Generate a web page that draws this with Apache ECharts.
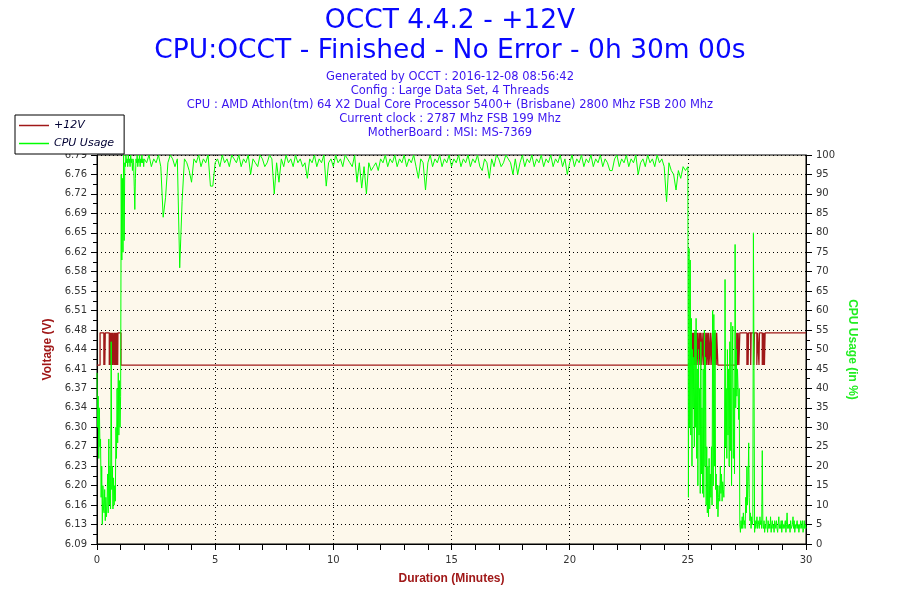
<!DOCTYPE html>
<html><head><meta charset="utf-8">
<script src="https://cdn.jsdelivr.net/npm/echarts@6/dist/echarts.min.js"></script>
<style>html,body{margin:0;padding:0;background:#fff}#c{width:900px;height:600px}</style>
</head><body><div id="c"></div>
<script>
const titleLines = ['OCCT 4.4.2 - +12V', 'CPU:OCCT - Finished - No Error - 0h 30m 00s'];
const infoLines = [
  'Generated by OCCT : 2016-12-08 08:56:42',
  'Config : Large Data Set, 4 Threads',
  'CPU : AMD Athlon(tm) 64 X2 Dual Core Processor 5400+ (Brisbane) 2800 Mhz FSB 200 Mhz',
  'Current clock : 2787 Mhz FSB 199 Mhz',
  'MotherBoard : MSI: MS-7369'
];
const seriesNames = ['+12V', 'CPU Usage'];
const voltTickLabels = ['6.09','6.13','6.16','6.20','6.23','6.27','6.30','6.34','6.37','6.41','6.44','6.48','6.51','6.55','6.58','6.62','6.65','6.69','6.72','6.76','6.79'];
const xTickLabels = ['0','5','10','15','20','25','30'];

// +12V reading: step changes (time in minutes, value in V)
const voltTimes = [0,0.13,0.29,0.31,0.33,0.35,0.52,0.53,0.545,0.555,0.57,0.58,0.61,0.62,0.65,0.66,0.71,0.72,0.76,0.77,0.79,0.80,0.83,0.84,0.875,0.885,1.015,
  25.14,25.17,25.18,25.21,25.22,25.24,25.25,25.29,25.30,25.33,25.35,25.38,25.40,25.45,25.47,25.52,25.53,25.58,25.60,25.66,25.67,25.74,25.76,25.80,25.82,25.87,25.88,25.94,25.96,26.02,26.04,26.08,26.10,26.14,26.15,26.20,26.22,26.27,
  27.07,27.10,27.13,27.16,27.20,27.50,27.53,27.55,27.57,27.66,27.68,27.79,27.82,27.92,27.95,28.01,28.03,28.15,28.17,28.19,28.22,28.24,28.27,30];
const voltValues = [6.412,6.470,6.412,6.470,6.412,6.470,6.412,6.470,6.412,6.470,6.412,6.470,6.412,6.470,6.412,6.470,6.412,6.470,6.412,6.470,6.412,6.470,6.412,6.470,6.412,6.470,6.412,
  6.470,6.412,6.470,6.412,6.470,6.412,6.470,6.412,6.470,6.412,6.470,6.412,6.470,6.412,6.470,6.412,6.470,6.412,6.470,6.412,6.470,6.412,6.470,6.412,6.470,6.412,6.470,6.412,6.470,6.412,6.470,6.412,6.470,6.412,6.470,6.412,6.470,6.412,
  6.470,6.412,6.470,6.412,6.470,6.412,6.470,6.412,6.470,6.412,6.470,6.412,6.470,6.412,6.470,6.412,6.470,6.412,6.470,6.412,6.470,6.412,6.470,6.470];

// CPU usage (%), segment A: from 0 min, every 0.025 min
const cpuA = [44,30,38,22,35,25, 27,12,20,5,15,9, 8,14,6,12,7,10, 18,8,27,10,20,9,
  52,14,20,9,17,10,15,11, 30,22,40,26,44,28,42,30,38, 95,73,94,75,100,78,98,97,100,98,
  99,97,100,98,99,97,100,98,99,96,99,98,92,86,94,99,98,100,97,99,98,100,97,99,98,100,98,99,97];
// segment B: from 2 min, every 0.1 min
const cpuB = [
  99,98,100,97,99,98,100,97,84,89,
  98,100,99,97,99,71,88,99,98,96,
  93,99,98,100,97,99,98,100,92,92,
  98,99,97,100,98,99,97,100,99,98,
  100,97,99,98,100,95,99,98,97,100,
  99,97,98,100,99,90,98,93,99,97,
  100,98,99,97,100,98,99,97,98,94,
  99,98,100,97,99,98,100,92,98,99,
  97,100,98,99,97,100,99,98,97,100,
  93,98,91.5,97,90,98,96,97,98,96,
  99,98,100,97,99,98,100,97,99,98,
  100,97,99,98,100,97,94,99,98,91,
  98,100,97,99,98,100,97,99,98,100,
  97,99,98,100,97,99,98,100,97,99,
  98,100,97,96,99,98,94,99,97,100,
  99,97,98,100,99,98,95,99,95,98,
  100,97,99,98,100,97,99,98,100,97,
  99,98,100,97,99,98,100,97,99,95,
  98,100,97,99,98,100,97,99,98,100,
  97,99,98,100,97,99,98,96,96,99,
  100,97,99,98,100,97,99,98,100,95,
  98,99,97,100,98,99,97,100,98,99,
  97,88,98,96,95,91,96,94,97,96];
// segment C: from 25 min, every 0.025 min
const cpuC = [
  97,12,76,30, 73,28,58,20, 50,35,48,25, 55,30,58,22, 45,15,50,28,
  40,13,52,18, 35,13,45,12, 55,20,48,10, 25,8,20,7, 22,9,18,12,
  25,10,60,15, 59,20,55,14, 18,9,15,7, 12,15,11,20, 13,18,11,16,
  14,12,20,68, 25,40,22,50, 28,45,20,52, 24,57,15,45, 56,22,40,18,
  77,35,50,38, 45,40,32,40, 5,3,6,4, 7,4,8,5, 6,4,12,8,
  20,10,16,26, 12,6,8,4, 7,5,6,80, 45,3,6,4, 5,7,4,6,
  5,4,7,5, 6,4,24,5, 4,6,3,5, 4,7,5,3, 6,4,5,4,
  7,3,5,6, 4,5,3,6, 5,4,6,4, 3,5,7,4, 5,4,6,3,
  6,4,5,4, 4,6,3,5, 8,4,5,4, 5,3,6,4, 4,5,7,4,
  6,3,5,4, 4,6,4,5, 3,5,4,6, 5,4,6,3, 4,6,4,5,
  4];

const cpuData = [];
cpuA.forEach((v, i) => cpuData.push([+(i * 0.025).toFixed(3), v]));
cpuB.forEach((v, i) => cpuData.push([+(2 + i * 0.1).toFixed(3), v]));
cpuC.forEach((v, i) => cpuData.push([+(25 + i * 0.025).toFixed(3), v]));
const voltData = voltTimes.map((t, i) => [t, voltValues[i]]);

const RED = '#a01818', GREEN = '#00ff00';
const FONT = 'DejaVu Sans';
const chart = echarts.init(document.getElementById('c'));
chart.setOption({
  animation: false,
  backgroundColor: '#ffffff',
  title: [
    { text: titleLines.join('\n'), left: 'center', top: 1,
      textStyle: { fontFamily: FONT, fontSize: 26.5, fontWeight: 'normal', color: '#0808ff', lineHeight: 30 } },
    { text: infoLines.join('\n'), left: 'center', top: 65,
      textStyle: { fontFamily: FONT, fontSize: 11.5, fontWeight: 'normal', color: '#3a14f0', lineHeight: 14 } }
  ],
  legend: {
    data: seriesNames, orient: 'vertical', left: 15, top: 115,
    icon: 'rect', itemWidth: 30, itemHeight: 1.5, itemGap: 5,
    backgroundColor: '#ffffff', borderColor: '#000', borderWidth: 1, borderRadius: 0,
    padding: [4, 10, 4, 4],
    textStyle: { fontFamily: FONT, fontSize: 11, fontStyle: 'italic', color: '#000033', lineHeight: 13 },
    z: 10
  },
  grid: { left: 97, right: 94, top: 155, bottom: 56, show: true,
    backgroundColor: '#fdf8eb', borderColor: '#000', borderWidth: 1 },
  xAxis: {
    type: 'value', min: 0, max: 30, interval: 5,
    name: 'Duration (Minutes)', nameLocation: 'middle', nameGap: 29,
    nameTextStyle: { fontFamily: 'Liberation Sans', fontSize: 12, fontWeight: 'bold', color: RED },
    axisLine: { lineStyle: { color: '#000', width: 1 } },
    axisTick: { show: true, length: 6, lineStyle: { color: '#000' } },
    minorTick: { show: true, splitNumber: 5, length: 6, lineStyle: { color: '#000' } },
    axisLabel: { fontFamily: FONT, fontSize: 10, color: '#333', margin: 11,
      formatter: v => xTickLabels[Math.round(v / 5)] },
    splitLine: { show: true, lineStyle: { color: '#000', width: 1, type: [1, 3] } }
  },
  yAxis: [
    { type: 'value', min: 6.09, max: 6.79, interval: 0.035, position: 'left',
      name: 'Voltage (V)', nameLocation: 'middle', nameGap: 38, nameRotate: 90,
      nameTextStyle: { fontFamily: 'Liberation Sans', fontSize: 12, fontWeight: 'bold', color: RED },
      axisLine: { show: true, lineStyle: { color: '#000' } },
      axisTick: { show: true, length: 6, lineStyle: { color: '#000' } },
      minorTick: { show: true, splitNumber: 2, length: 4, lineStyle: { color: '#000' } },
      axisLabel: { fontFamily: FONT, fontSize: 10, color: '#333', margin: 10,
        formatter: v => voltTickLabels[Math.round((v - 6.09) / 0.035)] },
      splitLine: { show: true, lineStyle: { color: '#000', width: 1, type: [1, 3] } }
    },
    { type: 'value', min: 0, max: 100, interval: 5, position: 'right',
      name: 'CPU Usage (in %)', nameLocation: 'middle', nameGap: 39, nameRotate: -90,
      nameTextStyle: { fontFamily: 'Liberation Sans', fontSize: 12, fontWeight: 'bold', color: '#22ee22' },
      axisLine: { show: true, lineStyle: { color: '#000' } },
      axisTick: { show: true, length: 6, lineStyle: { color: '#000' } },
      minorTick: { show: true, splitNumber: 2, length: 4, lineStyle: { color: '#000' } },
      axisLabel: { fontFamily: FONT, fontSize: 10, color: '#333', margin: 10 },
      splitLine: { show: false }
    }
  ],
  series: [
    { name: seriesNames[0], type: 'line', yAxisIndex: 0, step: 'end', data: voltData,
      symbol: 'none', color: RED, lineStyle: { color: RED, width: 1.3 }, z: 2 },
    { name: seriesNames[1], type: 'line', yAxisIndex: 1, data: cpuData,
      symbol: 'none', color: GREEN, lineStyle: { color: GREEN, width: 1 }, z: 3 }
  ]
});
</script>
</body></html>
